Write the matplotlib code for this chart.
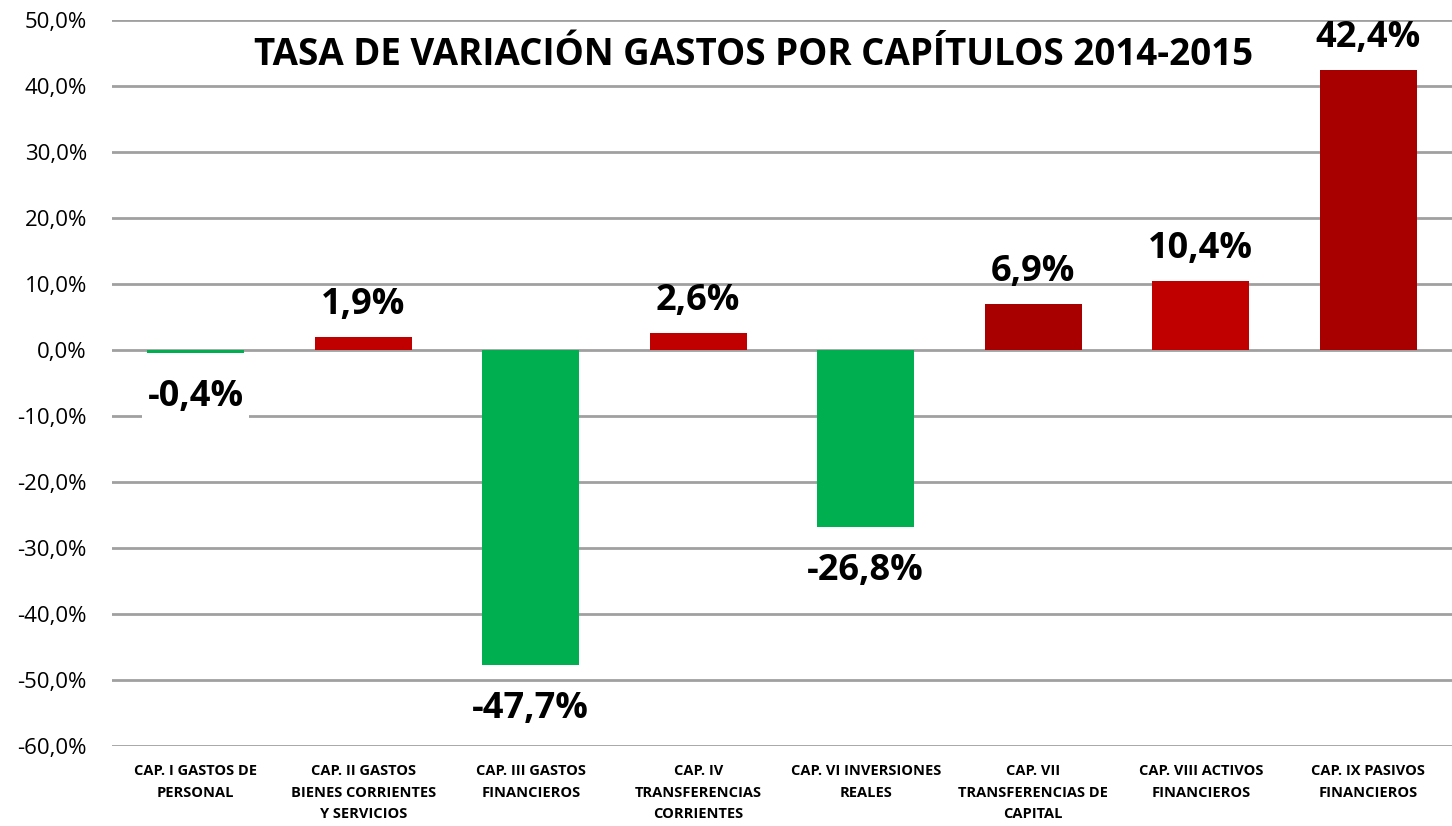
import matplotlib
matplotlib.use("Agg")
import matplotlib.pyplot as plt
from matplotlib.ticker import FuncFormatter

categories = [
    "CAP. I GASTOS DE\nPERSONAL",
    "CAP. II GASTOS\nBIENES CORRIENTES\nY SERVICIOS",
    "CAP. III GASTOS\nFINANCIEROS",
    "CAP. IV\nTRANSFERENCIAS\nCORRIENTES",
    "CAP. VI INVERSIONES\nREALES",
    "CAP. VII\nTRANSFERENCIAS DE\nCAPITAL",
    "CAP. VIII ACTIVOS\nFINANCIEROS",
    "CAP. IX PASIVOS\nFINANCIEROS",
]
values = [-0.4, 1.9, -47.7, 2.6, -26.8, 6.9, 10.4, 42.4]
colors = ["#00B050", "#C00000", "#00B050", "#C00000", "#00B050", "#A80000", "#C00000", "#A80000"]
yticks = list(range(-60, 51, 10))
title = "TASA DE VARIACIÓN GASTOS POR CAPÍTULOS 2014-2015"

plt.rcParams['font.family'] = ['Open Sans', 'DejaVu Sans']

fig = plt.figure(figsize=(14.52, 8.26), dpi=100)
ax = fig.add_axes([112/1452, 1 - 746/826, (1452 - 112)/1452, (746 - 20)/826])

x = list(range(len(values)))
ax.bar(x, values, width=0.58, color=colors, zorder=3)
ax.set_xlim(-0.5, len(values) - 0.5)
ax.set_ylim(-60, 50)
ax.set_yticks(yticks)
ax.yaxis.set_major_formatter(FuncFormatter(lambda v, p: f"{v:.1f}%".replace(".", ",")))
ax.grid(axis="y", color="#A0A0A0", linewidth=2, zorder=0)
for s in ax.spines.values():
    s.set_visible(False)
ax.tick_params(axis="y", length=0, labelsize=16, pad=18)
ax.tick_params(axis="x", length=0, pad=13)
ax.set_xticks(x)
ax.set_xticklabels(categories, fontsize=10.5, fontweight="bold", linespacing=1.68)

for i, v in enumerate(values):
    lbl = f"{v:.1f}%".replace(".", ",")
    off = 32 if v >= 0 else -44
    kw = {}
    if i == 0:
        kw["bbox"] = dict(facecolor="white", edgecolor="none", pad=4)
    ax.annotate(lbl, (i, v), xytext=(0, off), textcoords="offset pixels",
                ha="center", va="center", fontsize=26, fontweight="bold",
                zorder=5, **kw)

fig.text(754/1452, 1 - 55/826, title, ha="center", va="center",
         fontsize=26.5, fontweight="bold")

fig.savefig("out.png", dpi=100)
